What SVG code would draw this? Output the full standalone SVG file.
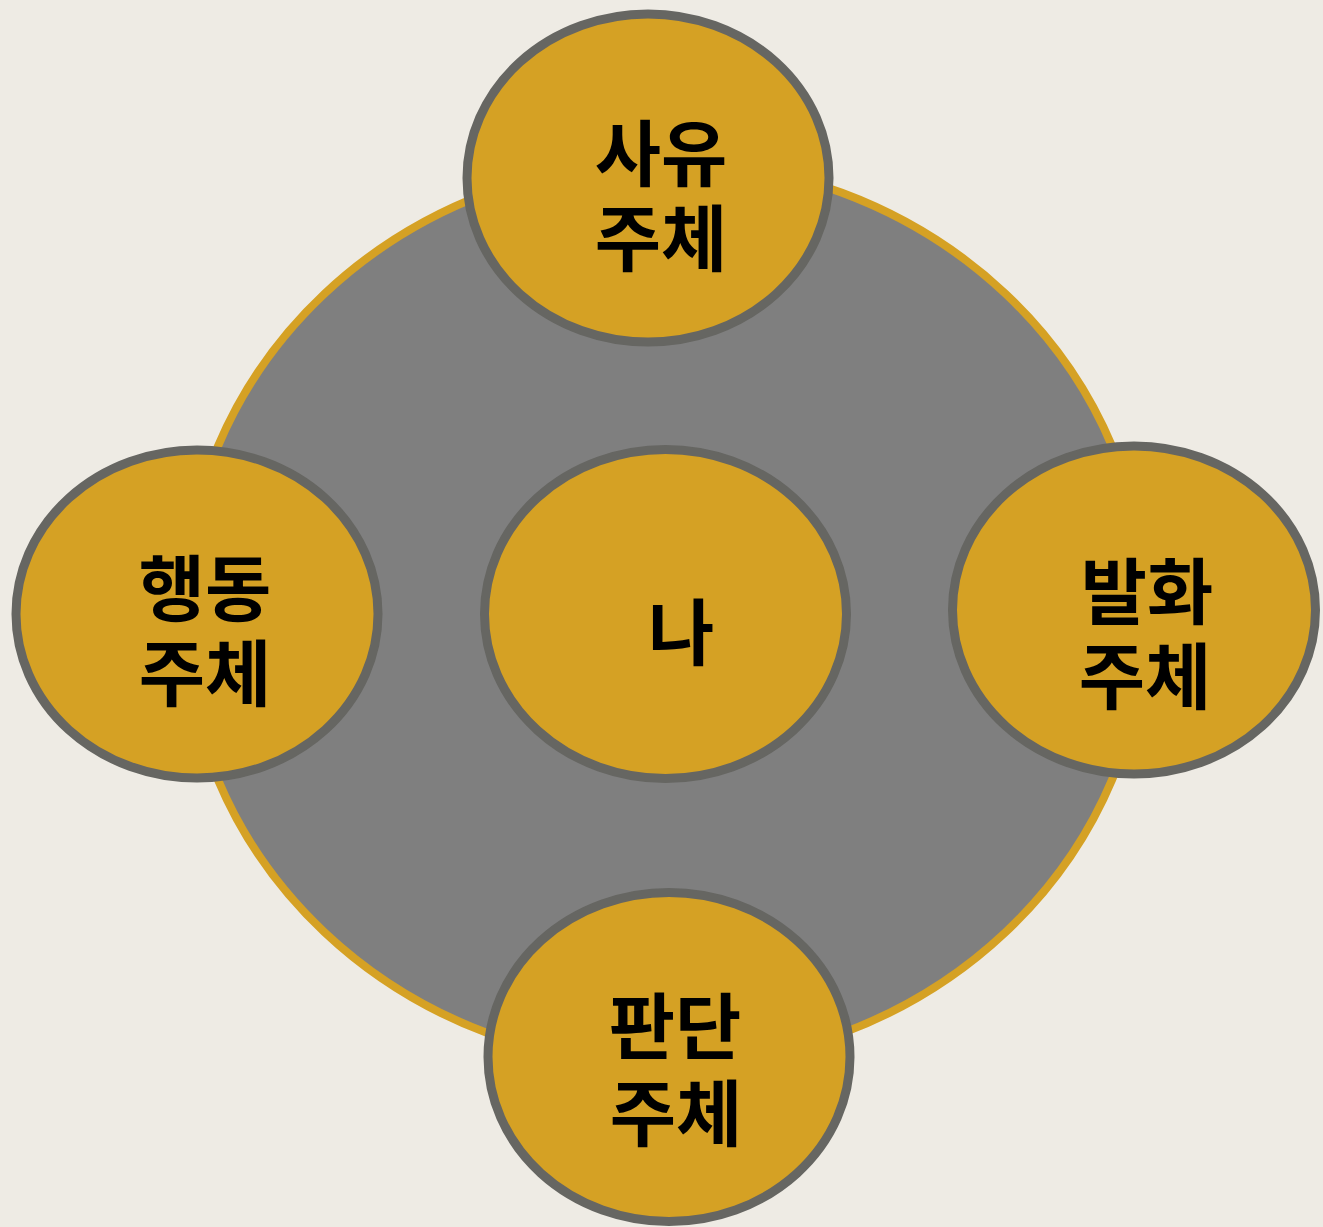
<svg xmlns="http://www.w3.org/2000/svg" width="1323" height="1227" viewBox="0 0 1323 1227">
  <style>
    .node ellipse { fill: #D5A124; stroke: #666662; stroke-width: 9; }
    .lbl { font-family: "Noto Sans CJK KR", "Noto Sans", sans-serif; font-weight: 600; font-size: 72px; fill: #000000; text-anchor: middle; }
  </style>
  <rect x="0" y="0" width="1323" height="1227" fill="#EEEBE4"/>
  <g id="ring">
    <ellipse cx="665" cy="613" rx="481" ry="452" fill="#7F7F7F" stroke="#D5A124" stroke-width="8"/>
  </g>
  <g id="connectors"></g>
  <g id="node-top" class="node">
    <ellipse cx="648" cy="178" rx="181" ry="164"/>
    <text class="lbl"><tspan x="661" y="180">사유</tspan><tspan x="661" y="265">주체</tspan></text>
  </g>
  <g id="node-left" class="node">
    <ellipse cx="197" cy="614" rx="181" ry="164"/>
    <text class="lbl"><tspan x="205" y="615">행동</tspan><tspan x="205" y="700">주체</tspan></text>
  </g>
  <g id="node-center" class="node">
    <ellipse cx="665.5" cy="614" rx="181" ry="164.5"/>
    <text class="lbl" x="681" y="659">나</text>
  </g>
  <g id="node-right" class="node">
    <ellipse cx="1134" cy="610" rx="181.5" ry="164"/>
    <text class="lbl"><tspan x="1147" y="618">발화</tspan><tspan x="1145" y="703">주체</tspan></text>
  </g>
  <g id="node-bottom" class="node">
    <ellipse cx="669" cy="1057" rx="181" ry="164.5"/>
    <text class="lbl"><tspan x="675" y="1053">판단</tspan><tspan x="676" y="1140">주체</tspan></text>
  </g>
</svg>
